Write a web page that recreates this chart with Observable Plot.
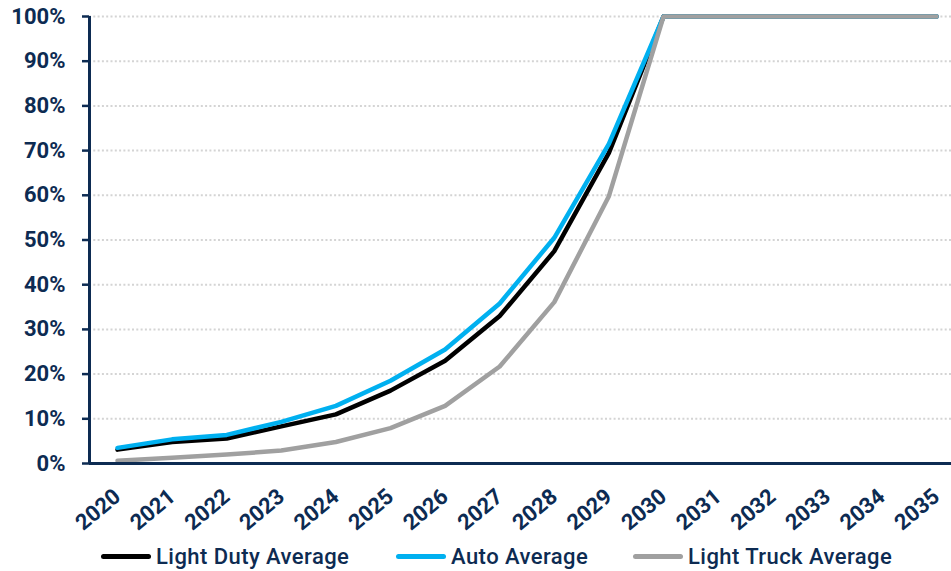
<!DOCTYPE html>
<html>
<head>
<meta charset="utf-8">
<script src="https://cdn.jsdelivr.net/npm/d3@7"></script>
<script src="https://cdn.jsdelivr.net/npm/@observablehq/plot@0.6"></script>
<style>
  body { margin: 0; background: #fff; }
  #chart { position: relative; width: 951px; height: 571px; background: #fff; }
  .legend { position: absolute; top: 541px; left: 0; width: 951px; height: 30px;
            font-family: Roboto, "Open Sans", sans-serif; font-weight: 500; font-size: 22px; letter-spacing: 0.45px; color: #0d2b52; }
  .item { position: absolute; top: 0; height: 30px; display: flex; align-items: center; white-space: nowrap; }
  .swatch { width: 50px; height: 5px; border-radius: 2.5px; margin-right: 5px; }
</style>
</head>
<body>
<div id="chart"></div>
<script>
// Share of new sales by model year, percent
const years = [2020, 2021, 2022, 2023, 2024, 2025, 2026, 2027, 2028, 2029, 2030, 2031, 2032, 2033, 2034, 2035];
const lightDuty  = [3.1, 4.8, 5.6, 8.3, 11.0, 16.3, 23.0, 33.0, 47.5, 69.5, 100, 100, 100, 100, 100, 100];
const autoAvg    = [3.5, 5.4, 6.4, 9.3, 12.9, 18.5, 25.5, 35.8, 50.5, 71.5, 100, 100, 100, 100, 100, 100];
const lightTruck = [0.6, 1.3, 2.0, 2.9, 4.8, 7.9, 12.9, 21.7, 36.1, 59.8, 100, 100, 100, 100, 100, 100];
const yTicks = [0, 10, 20, 30, 40, 50, 60, 70, 80, 90, 100];
const seriesNames = ["Light Duty Average", "Auto Average", "Light Truck Average"];
const seriesColors = ["#000000", "#00b0f0", "#a0a0a0"];

const navy = "#0d2b52";
const seriesValues = [lightDuty, autoAvg, lightTruck];
const rows = seriesNames.flatMap((name, i) =>
  years.map((year, j) => ({series: name, year, value: seriesValues[i][j]})));

const xDomain = [2019.487, 2035.275];

const plot = Plot.plot({
  width: 951,
  height: 541,
  marginTop: 16,
  marginBottom: 78,
  marginLeft: 89,
  marginRight: 0,
  style: {fontFamily: "Roboto, 'Open Sans', sans-serif", fontWeight: 700, fontSize: "22px", color: navy, background: "#fff", overflow: "visible"},
  x: {type: "linear", domain: xDomain},
  y: {domain: [0, 100]},
  color: {domain: seriesNames, range: seriesColors},
  marks: [
    Plot.ruleY(yTicks.filter(d => d > 0), {stroke: "#d4d4d4", strokeWidth: 2, strokeDasharray: "2,2.3"}),
    Plot.axisY({ticks: yTicks, tickFormat: d => d + "%", tickSize: 7, tickPadding: 17, strokeWidth: 2.5, label: null, stroke: navy, fill: navy}),
    Plot.axisX({ticks: years, tickFormat: d => String(d), tickRotate: -40, tickSize: 0, tickPadding: 30, label: null, fill: navy}),
    Plot.line(rows, {x: "year", y: "value", z: "series", stroke: "series", strokeWidth: 4.5, strokeLinecap: "round", strokeLinejoin: "round"}),
    Plot.ruleX([xDomain[0]], {y1: 0, y2: 100, stroke: navy, strokeWidth: 3}),
    Plot.ruleY([0], {stroke: navy, strokeWidth: 3})
  ]
});
document.getElementById("chart").appendChild(plot);

// Legend below the plot
const legend = document.createElement("div");
legend.className = "legend";
const lefts = [101, 396, 633];
seriesNames.forEach((name, i) => {
  const item = document.createElement("div");
  item.className = "item";
  item.style.left = lefts[i] + "px";
  const sw = document.createElement("span");
  sw.className = "swatch";
  sw.style.background = seriesColors[i];
  const label = document.createElement("span");
  label.textContent = name;
  item.appendChild(sw);
  item.appendChild(label);
  legend.appendChild(item);
});
document.getElementById("chart").appendChild(legend);
</script>
</body>
</html>
